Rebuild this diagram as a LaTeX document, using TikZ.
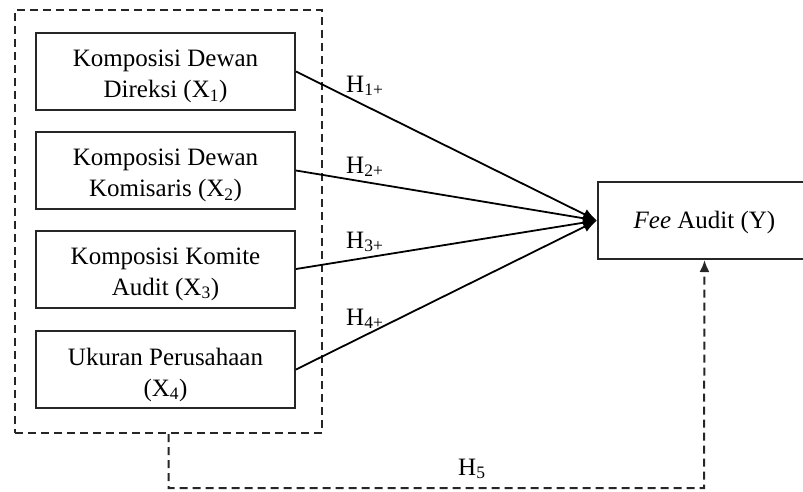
\documentclass[tikz,border=0pt]{standalone}
\usepackage{fontspec}
\setmainfont{Liberation Serif}
\usetikzlibrary{arrows.meta}
\tikzset{
  varbox/.style={draw=black!85, line width=2pt, minimum width=259pt, minimum height=77pt, inner sep=0pt},
  boxtext/.style={inner sep=0pt, align=center, font=\fontsize{25}{31}\selectfont},
  groupbox/.style={draw=black!85, line width=2pt, dash pattern=on 8pt off 5pt, minimum width=307pt, minimum height=423pt, inner sep=0pt},
  hyp/.style={draw=black, line width=1.8pt, -{Latex[length=14pt,width=11pt]}},
  dashhyp/.style={draw=black!85, line width=2pt, dash pattern=on 8pt off 5pt, -{Latex[length=12pt,width=10pt]}},
  hlabel/.style={inner sep=0pt, anchor=base west, font=\fontsize{25}{30}\selectfont}
}
\begin{document}
\begin{tikzpicture}[x=1pt,y=-1pt]
\useasboundingbox (0,0) rectangle (803,491);
\clip (0,0) rectangle (803,491);
\node[groupbox] (grp) at (168.5,221.5) {};
\node[varbox] (x1) at (165.5,71.5) {};
\node[varbox] (x2) at (165.5,170.5) {};
\node[varbox] (x3) at (165.5,269) {};
\node[varbox] (x4) at (165.5,369.5) {};
\node[varbox, minimum width=213pt] (y) at (704.5,220.5) {};
\node[boxtext] (t1) at ([yshift=-5pt]x1.center) {Komposisi Dewan\\Direksi (X\textsubscript{1})};
\node[boxtext] (t2) at ([yshift=-5pt]x2.center) {Komposisi Dewan\\Komisaris (X\textsubscript{2})};
\node[boxtext] (t3) at ([yshift=-5pt]x3.center) {Komposisi Komite\\Audit (X\textsubscript{3})};
\node[boxtext] (t4) at ([yshift=-5pt]x4.center) {Ukuran Perusahaan\\(X\textsubscript{4})};
\node[boxtext] (ty) at ([yshift=-2pt]y.center) {\textit{Fee} Audit (Y)};
\draw[hyp] (x1.east) -- (y.west);
\draw[hyp] (x2.east) -- (y.west);
\draw[hyp] (x3.east) -- (y.west);
\draw[hyp] (x4.east) -- (y.west);
\node[hlabel] (h1) at (346,92) {H\textsubscript{1+}};
\node[hlabel] (h2) at (346,173) {H\textsubscript{2+}};
\node[hlabel] (h3) at (346,248) {H\textsubscript{3+}};
\node[hlabel] (h4) at (346,325) {H\textsubscript{4+}};
\node[hlabel] (h5) at (458,475) {H\textsubscript{5}};
\coordinate (c1) at (167,488);
\coordinate (c2) at (704,488);
\draw[dashhyp] (grp.south) -- (grp.south |- c1) -- (c2) -- (y.south);
\end{tikzpicture}
\end{document}
